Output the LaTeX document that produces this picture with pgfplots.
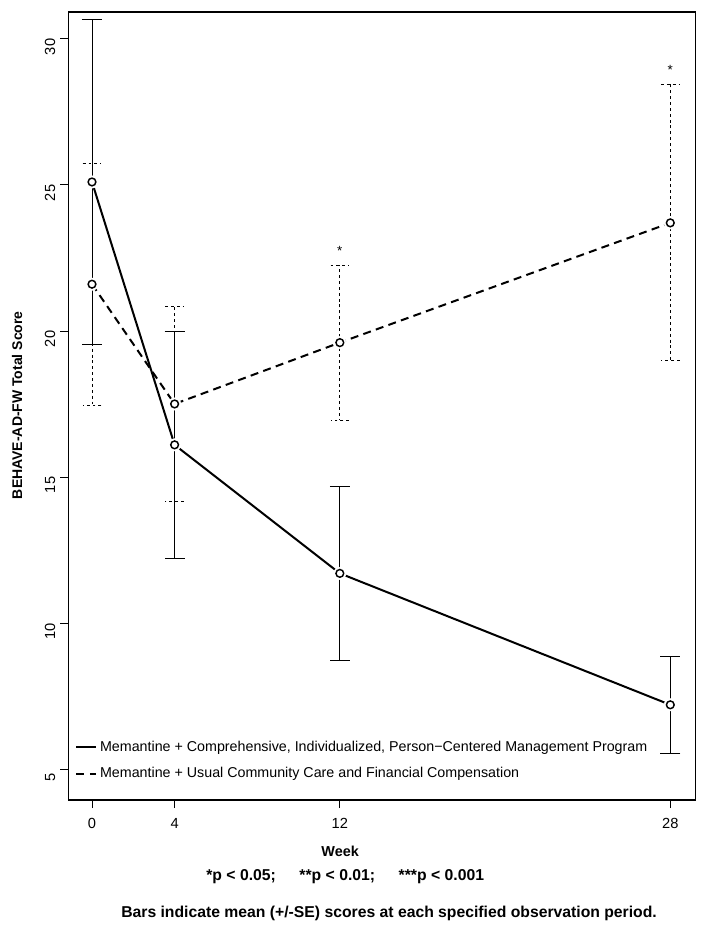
\documentclass[border=0pt]{standalone}
\usepackage{fontspec}
\setmainfont{Liberation Sans}
\usepackage{pgfplots}
\pgfplotsset{compat=1.18}
\begin{document}
\begin{tikzpicture}[x=1pt,y=1pt]
\begin{axis}[
  scale only axis,
  width=470.25pt, height=591pt,
  xmin=-1.16, xmax=29.2,
  ymin=3.94, ymax=30.92,
  xtick={0,4,12,28},
  ytick={5,10,15,20,25,30},
  xtick pos=left, ytick pos=left,
  tick align=outside,
  major tick length=6pt,
  axis line style={line width=0.8pt},
  tick style={line width=0.6pt, black},
  ticklabel style={font=\fontsize{11}{13}\selectfont},
  /pgf/number format/assume math mode=true,
  yticklabel style={rotate=90, anchor=south, xshift=-6pt},
  xticklabel style={yshift=-4pt},
  clip=false,
  legend style={draw=none, fill=none, at={(rel axis cs:0.005,0.082)}, anchor=north west,
    font=\fontsize{10.7}{12}\selectfont, row sep=6.5pt,
    /tikz/every even column/.append style={column sep=0pt}},
  legend cell align=left,
  legend image code/.code={\draw[#1] (0pt,0pt) -- (15pt,0pt);},
]
% invisible bounding frame
\coordinate (BL) at (rel axis cs:-0.1085,-0.1662);
\coordinate (TR) at (rel axis cs:1.0144,1.0152);

% main lines
\addplot[black, line width=1.5pt, mark=none] coordinates {(0,25.1) (4,16.1) (12,11.7) (28,7.2)};
\addlegendentry{Memantine + Comprehensive, Individualized, Person\textminus Centered Management Program}
\addplot[black, line width=1.5pt, dash pattern=on 6pt off 4pt, mark=none] coordinates {(0,21.6) (4,17.5) (12,19.6) (28,23.7)};
\addlegendentry{Memantine + Usual Community Care and Financial Compensation}

% error bars solid
\addplot[forget plot, draw=none, mark=none,
  error bars/.cd, y dir=both, y explicit,
  error bar style={black, line width=0.6pt},
  error mark options={rotate=90, mark size=7.5pt, line width=0.6pt, black}]
  coordinates {(0,25.1) +- (0,5.55) (4,16.1) +- (0,3.9) (12,11.7) +- (0,2.97) (28,7.2) +- (0,1.67)};
% error bars dashed
\addplot[forget plot, draw=none, mark=none,
  error bars/.cd, y dir=both, y explicit,
  error bar style={black, line width=0.6pt, dash pattern=on 2.2pt off 2.2pt},
  error mark options={rotate=90, mark size=7pt, line width=0.6pt, black, dash pattern=on 2.2pt off 2.2pt}]
  coordinates {(0,21.6) +- (0,4.15) (4,17.5) +- (0,3.35) (12,19.6) +- (0,2.65) (28,23.72) +- (0,4.73)};

% marker halos and circles
\addplot[forget plot, only marks, mark=*, mark size=4.6pt, mark options={fill=white, draw=white}]
  coordinates {(0,25.1) (4,16.1) (12,11.7) (28,7.2) (0,21.6) (4,17.5) (12,19.6) (28,23.7)};
\addplot[forget plot, only marks, mark=o, mark size=2.9pt, mark options={black, line width=1.1pt}]
  coordinates {(0,25.1) (4,16.1) (12,11.7) (28,7.2) (0,21.6) (4,17.5) (12,19.6) (28,23.7)};

% significance stars
\node[font=\fontsize{10}{12}\selectfont] at (axis cs:12,22.75) {*};
\node[font=\fontsize{10}{12}\selectfont] at (axis cs:28,28.95) {*};

% labels
\node[font=\bfseries\fontsize{10.8}{12}\selectfont] at (rel axis cs:0.434,-0.0647) {Week};
\node[font=\bfseries\fontsize{10.5}{12}\selectfont, rotate=90] at (rel axis cs:-0.0813,0.501) {BEHAVE-AD-FW Total Score};
\node[font=\bfseries\fontsize{11.8}{13}\selectfont] at (rel axis cs:0.442,-0.0977) {*p < 0.05;\hspace{1.5em}**p < 0.01;\hspace{1.5em}***p < 0.001};
\node[font=\bfseries\fontsize{11.8}{13}\selectfont] at (rel axis cs:0.512,-0.1434) {Bars indicate mean (+/-SE) scores at each specified observation period.};
\end{axis}
\pgfresetboundingbox
\useasboundingbox (BL) rectangle (TR);
\end{tikzpicture}
\end{document}
